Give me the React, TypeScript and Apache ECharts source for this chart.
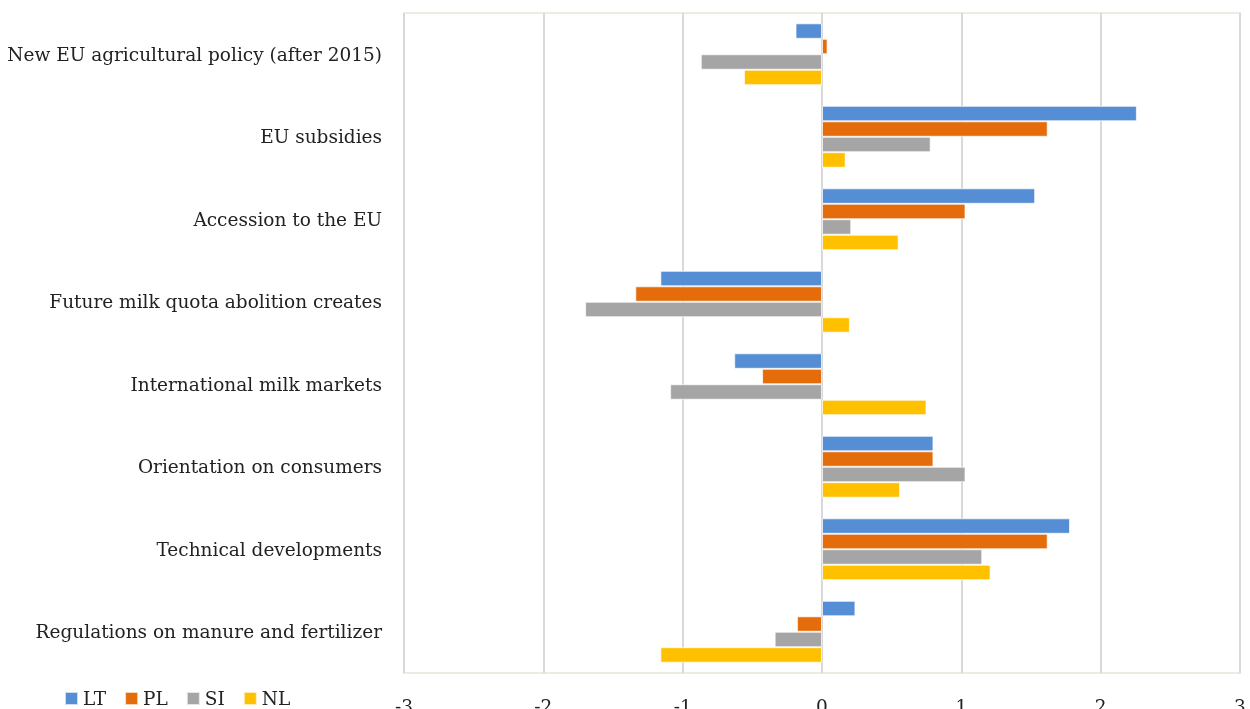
import React, { useEffect, useRef } from "react";
import * as echarts from "echarts";

const categories = [
  "New EU agricultural policy (after 2015)",
  "EU subsidies",
  "Accession to the EU",
  "Future milk quota abolition creates",
  "International milk markets",
  "Orientation on consumers",
  "Technical developments",
  "Regulations on manure and fertilizer",
];
const seriesNames = ["LT", "PL", "SI", "NL"];
const LT = [-0.19, 2.26, 1.53, -1.16, -0.63, 0.8, 1.78, 0.24];
const PL = [0.04, 1.62, 1.03, -1.34, -0.43, 0.8, 1.62, -0.18];
const SI = [-0.87, 0.78, 0.21, -1.7, -1.09, 1.03, 1.15, -0.34];
const NL = [-0.56, 0.17, 0.55, 0.2, 0.75, 0.56, 1.21, -1.16];
const xTicks = [-3, -2, -1, 0, 1, 2, 3];
const colors = ["#558ED5", "#E46C0A", "#A5A5A5", "#FFC000"];

const FONT = "'DejaVu Serif', serif";

export default function App() {
  const ref = useRef<HTMLDivElement>(null);
  useEffect(() => {
    if (!ref.current) return;
    const chart = echarts.init(ref.current, undefined, { renderer: "svg" });
    const values = [LT, PL, SI, NL];
    chart.setOption({
      animation: false,
      textStyle: { fontFamily: FONT },
      legend: {
        data: seriesNames,
        left: 59,
        top: 684,
        icon: "rect",
        itemWidth: 13,
        itemHeight: 13,
        itemGap: 18,
        textStyle: { fontFamily: FONT, fontSize: 18.5, color: "#222" },
      },
      grid: {
        left: 404,
        right: 10,
        top: 13,
        bottom: 36,
        show: true,
        borderColor: "#EEEBE3",
        borderWidth: 2,
        containLabel: false,
        outerBoundsMode: "none",
      },
      xAxis: {
        type: "value",
        min: xTicks[0],
        max: xTicks[xTicks.length - 1],
        interval: 1,
        axisLine: { show: false },
        axisTick: { show: false },
        splitLine: { show: true, lineStyle: { color: "#D9D9D9", width: 2 } },
        axisLabel: {
          fontFamily: FONT,
          fontSize: 18.5,
          color: "#222",
          margin: 24,
        },
      },
      yAxis: {
        type: "category",
        inverse: true,
        data: categories,
        axisLine: { show: false },
        axisTick: { show: false },
        splitLine: { show: false },
        axisLabel: {
          fontFamily: FONT,
          fontSize: 18.5,
          color: "#222",
          margin: 22,
        },
      },
      series: seriesNames.map((name, i) => ({
        name,
        type: "bar",
        data: values[i],
        barGap: "0%",
        barCategoryGap: "25%",
        itemStyle: {
          color: colors[i],
          borderColor: "rgba(255,255,255,0.7)",
          borderWidth: 1,
        },
      })),
    });
    return () => chart.dispose();
  }, []);
  return (
    <div
      ref={ref}
      style={{ position: "fixed", left: 0, top: 0, width: 1250, height: 709 }}
    />
  );
}
